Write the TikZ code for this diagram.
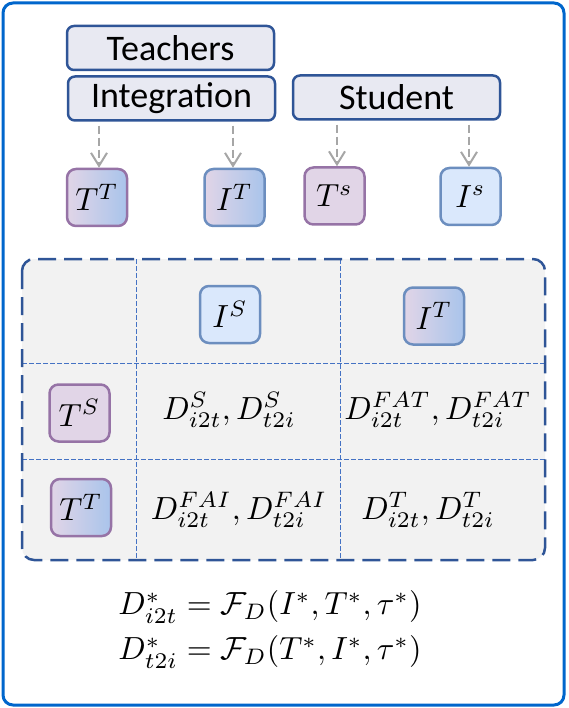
\documentclass[tikz,border=0pt]{standalone}
\usepackage{graphicx}
\usepackage{fontspec}
\newfontfamily\carlito{Carlito}
\usetikzlibrary{arrows.meta}
\newcommand{\mymath}[1]{\scalebox{3.2}{$#1$}}
\definecolor{outerblue}{HTML}{0066CC}
\definecolor{boxblue}{HTML}{2F5597}
\definecolor{boxfill}{HTML}{E8E9F2}
\definecolor{purfill}{HTML}{E1D5E7}
\definecolor{purdraw}{HTML}{9673A6}
\definecolor{bluefill}{HTML}{DAE8FC}
\definecolor{bluedraw}{HTML}{6C8EBF}
\definecolor{gradblue}{HTML}{A9C4EB}
\definecolor{tablefill}{HTML}{F2F2F2}
\definecolor{gridblue}{HTML}{4472C4}
\definecolor{arrowgray}{HTML}{A6A6A6}
\begin{document}
\begin{tikzpicture}[x=1pt,y=-1pt,
  topbox/.style={draw=boxblue, fill=boxfill, line width=2.5pt, rounded corners=7pt,
    minimum width=207pt, minimum height=44pt, inner sep=0pt,
    font=\carlito\fontsize{36}{42}\selectfont},
  smallbox/.style={line width=2.5pt, rounded corners=9pt, minimum width=60pt,
    minimum height=57pt, inner sep=0pt},
  tpur/.style={smallbox, draw=purdraw, fill=purfill},
  iblue/.style={smallbox, draw=bluedraw, fill=bluefill},
  tgrad/.style={smallbox, draw=purdraw, left color=purfill, right color=gradblue},
  igrad/.style={smallbox, draw=bluedraw, left color=purfill, right color=gradblue},
  feedarrow/.style={draw=arrowgray, line width=2pt, dash pattern=on 8pt off 4pt,
    -{Straight Barb[length=13pt, width=16pt, line width=2pt]}},
  gridline/.style={draw=gridblue, line width=1pt, dash pattern=on 5pt off 2pt}]
\useasboundingbox (0,0) rectangle (568,708);
% outer frame
\draw[outerblue, line width=3pt, rounded corners=10pt] (3,3) rectangle (564,705);
% top boxes
\node[topbox] (teach) at (170.5,48) {Teachers};
\node[topbox] (integ) at (171.5,98.5) {Integration};
\node[topbox] (stud) at (396.5,97.5) {Student};
% feature boxes
\node[tgrad] (TT1) at (97,197.5) {\mymath{T^T}};
\node[igrad] (IT1) at (234.5,197.5) {\mymath{I^T}};
\node[tpur] (Ts1) at (334.5,196) {\mymath{T^s}};
\node[iblue] (Is1) at (470.5,196.5) {\mymath{I^s}};
% arrows
\draw[feedarrow, shorten <=4pt] ([xshift=2pt]TT1.north |- integ.south) -- ([xshift=2pt]TT1.north);
\draw[feedarrow, shorten <=4pt] ([xshift=-1.5pt]IT1.north |- integ.south) -- ([xshift=-1.5pt]IT1.north);
\draw[feedarrow, shorten <=4pt] ([xshift=2.5pt]Ts1.north |- stud.south) -- ([xshift=2.5pt]Ts1.north);
\draw[feedarrow, shorten <=4pt] ([xshift=-1.5pt]Is1.north |- stud.south) -- ([xshift=-1.5pt]Is1.north);
% table
\path[fill=tablefill, rounded corners=12pt] (22,259) rectangle (545,560);
\draw[gridline] (136,259) -- (136,560);
\draw[gridline] (340,259) -- (340,560);
\draw[gridline] (22,363) -- (545,363);
\draw[gridline] (22,459) -- (545,459);
\draw[boxblue, line width=2.5pt, dash pattern=on 18pt off 8pt, rounded corners=12pt]
  (22,259) rectangle (545,560);
\node[iblue] (IS2) at (230,314.5) {\mymath{I^S}};
\node[igrad] (IT2) at (434,316) {\mymath{I^T}};
\node[tpur] (TS2) at (79.5,413) {\mymath{T^S}};
\node[tgrad] (TT2) at (81,507.5) {\mymath{T^T}};
\node (dss) at (229,410) {\mymath{D^S_{i2t},D^S_{t2i}}};
\node (dfat) at (438,410) {\mymath{D^{FAT}_{i2t},D^{FAT}_{t2i}}};
\node (dfai) at (239,510) {\mymath{D^{FAI}_{i2t},D^{FAI}_{t2i}}};
\node (dtt) at (428,510) {\mymath{D^T_{i2t},D^T_{t2i}}};
% formulas
\node (f1) at (270,607) {\mymath{D^*_{i2t}=\mathcal{F}_D(I^*,T^*,\tau^*)}};
\node (f2) at (270,652) {\mymath{D^*_{t2i}=\mathcal{F}_D(T^*,I^*,\tau^*)}};
\end{tikzpicture}
\end{document}
